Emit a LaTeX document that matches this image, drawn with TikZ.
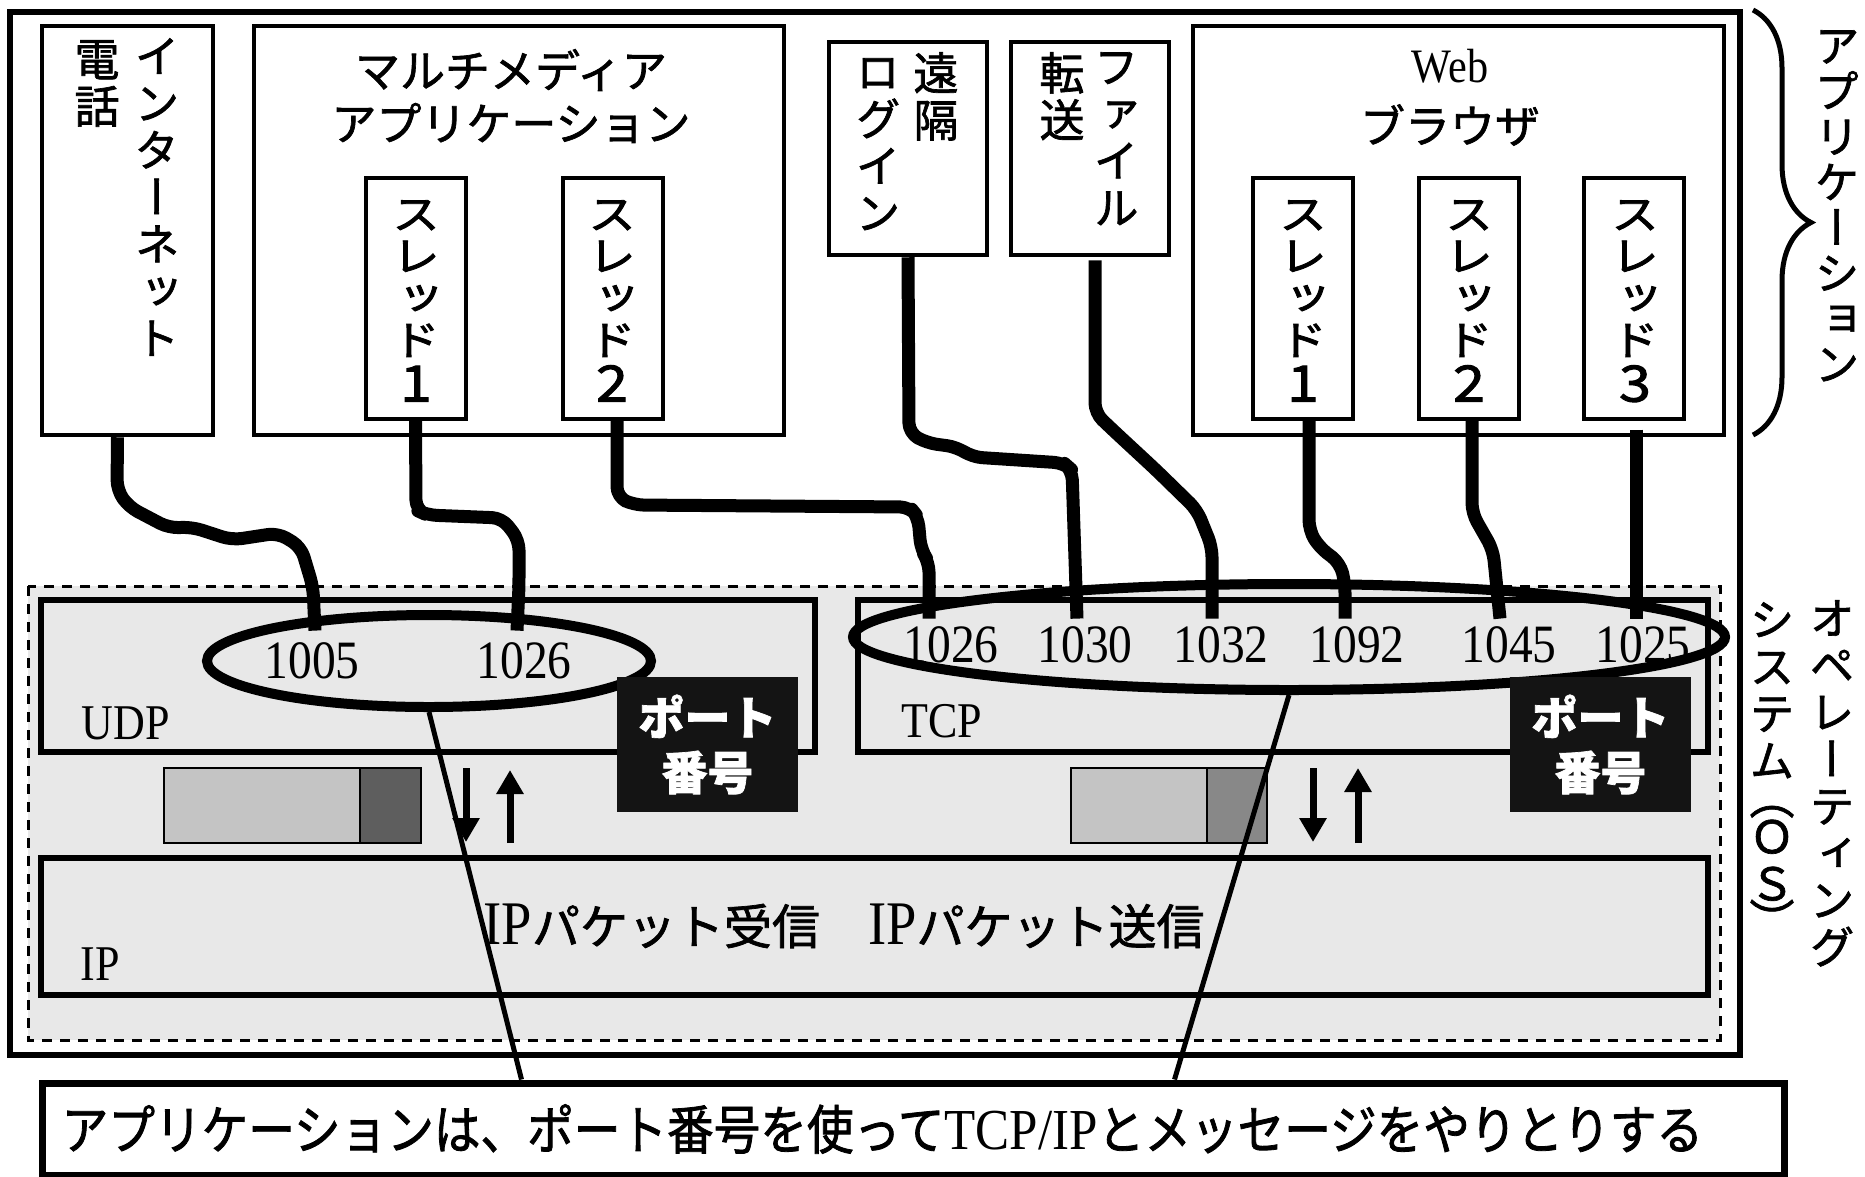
\documentclass[tikz,border=0pt]{standalone}
\usepackage{fontspec}
\usetikzlibrary{shapes.geometric,arrows.meta,decorations.pathreplacing}
\newfontfamily\jp[FakeBold=1.5]{Noto Sans CJK JP}
\newfontfamily\jpv[RawFeature=+vert, FakeBold=1.5]{Noto Sans CJK JP}
\newfontfamily\jpw[RawFeature=+vert, FakeStretch=1.15, FakeBold=2]{Noto Sans CJK JP}
\newfontfamily\jpc[FakeStretch=0.88, FakeBold=1.5]{Noto Sans CJK JP}
\newfontfamily\tm[FakeStretch=0.88]{Liberation Serif}
\newcommand\tmbig{\tm\fontsize{62}{62}\selectfont}
\newcommand\thrno[1]{{\fontsize{50}{42}\selectfont #1}}
\definecolor{osgray}{HTML}{E8E8E8}
\definecolor{pktlight}{HTML}{C4C4C4}
\definecolor{pktdark}{HTML}{5E5E5E}
\definecolor{pktmid}{HTML}{888888}
\definecolor{portblack}{HTML}{141414}
\tikzset{
  appbox/.style={draw, line width=4.5pt, fill=white, inner sep=0pt},
  thrbox/.style={draw, line width=4pt, fill=white, inner sep=0pt, minimum width=100pt, minimum height=241pt},
  layer/.style={draw, line width=6pt, fill=osgray, inner sep=0pt},
  layername/.style={font=\tm\fontsize{50}{50}\selectfont, inner sep=0pt},
  vtext/.style={font=\jpv\fontsize{45}{47}\selectfont, align=center, inner sep=0pt, anchor=north},
  thrtext/.style={font=\jpw\fontsize{42}{42}\selectfont, align=center, inner sep=0pt, anchor=north},
  portno/.style={font=\tm\fontsize{54}{54}\selectfont, inner sep=0pt},
  portset/.style={draw, ellipse, line width=10pt, inner sep=0pt},
  wire/.style={line width=13pt, rounded corners=10pt, line join=round},
  portlabel/.style={fill=portblack, text=white, font=\jp\bfseries\fontsize{46}{55}\selectfont, align=center, minimum width=181pt, minimum height=135pt, inner sep=0pt},
  updown/.style={line width=7pt, -{Triangle[width=26pt,length=24pt]}},
  callout/.style={line width=5pt},
}
\begin{document}
\begin{tikzpicture}[x=1pt,y=-1pt]
\useasboundingbox (0,0) rectangle (1865,1176);
\draw[line width=5.5pt, fill=white] (10,12) rectangle (1740,1055);%host
\draw[line width=3pt, dash pattern=on 10pt off 8pt, fill=osgray] (28,586) rectangle (1720,1040);%os

% applications
\node[appbox, minimum width=171pt, minimum height=409pt] (tel) at (127.5,230.5) {};
\node[vtext] at (157,38) {イ\\ン\\タ\\ー\\ネ\\ッ\\ト};
\node[vtext] at (97,40) {電\\話};

\node[appbox, minimum width=530pt, minimum height=409pt] (mm) at (519,230.5) {};
\node[font=\jp\fontsize{45}{53}\selectfont, align=center, inner sep=0pt] at (511,96) {マルチメディア\\アプリケーション};
\node[thrbox] (mt1) at (415.5,298.5) {};
\node[thrtext] at (416,200) {ス\\レ\\ッ\\ド\\[4pt]\thrno{1}};
\node[thrbox] (mt2) at (613,298.5) {};
\node[thrtext] at (612,200) {ス\\レ\\ッ\\ド\\[4pt]\thrno{2}};

\node[appbox, minimum width=158pt, minimum height=213pt] (rlogin) at (908,148.5) {};
\node[vtext] at (936,52) {遠\\隔};
\node[vtext] at (878,58) {ロ\\グ\\イ\\ン};
\node[appbox, minimum width=158pt, minimum height=213pt] (ftp) at (1090,148.5) {};
\node[vtext] at (1116,52) {フ\\ァ\\イ\\ル};
\node[vtext] at (1062,52) {転\\送};

\node[appbox, line width=4pt, minimum width=531pt, minimum height=409pt] (web) at (1458.5,230.5) {};
\node[font=\tm\fontsize{48}{48}\selectfont, inner sep=0pt] at (1450,66) {Web};
\node[font=\jp\fontsize{45}{45}\selectfont, inner sep=0pt] at (1450,125) {ブラウザ};
\node[thrbox] (wt1) at (1303,298) {};
\node[thrtext] at (1303,200) {ス\\レ\\ッ\\ド\\[4pt]\thrno{1}};
\node[thrbox] (wt2) at (1469,298) {};
\node[thrtext] at (1469,200) {ス\\レ\\ッ\\ド\\[4pt]\thrno{2}};
\node[thrbox] (wt3) at (1634,298) {};
\node[thrtext] at (1635,200) {ス\\レ\\ッ\\ド\\[4pt]\thrno{3}};

% layers
\node[layer, minimum width=774pt, minimum height=152pt] (udp) at (428,676) {};
\node[layer, minimum width=850pt, minimum height=152pt] (tcp) at (1283,676) {};
\node[layer, minimum width=1667pt, minimum height=137pt] (ip) at (874.5,926.5) {};
\node[layername] at (126,723) {UDP};
\node[layername] at (942,721) {TCP};
\node[layername] at (100,964) {IP};
\node[font=\jp\fontsize{48}{48}\selectfont, inner sep=0pt] (iptext) at (844,926) {{\tmbig IP}パケット受信　{\tmbig IP}パケット送信};

% port numbers
\node[portset, minimum width=444pt, minimum height=92pt] (udpports) at (429,661) {};
\node[portset, minimum width=872pt, minimum height=106pt] (tcpports) at (1289,637) {};
\node[portno] (u1005) at (312,661) {1005};
\node[portno] (u1026) at (524,661) {1026};
\node[portno] (t1026) at (951,645) {1026};
\node[portno] (t1030) at (1085,645) {1030};
\node[portno] (t1032) at (1221,645) {1032};
\node[portno] (t1092) at (1357,645) {1092};
\node[portno] (t1045) at (1509,645) {1045};
\node[portno] (t1025) at (1643,645) {1025};

% wires
\draw[wire] ([xshift=-10pt]tel.south) -- (117,490) -- (129,507) -- (169,528) -- (192,527) -- (232,540) -- (278,533) -- (301,547) -- (313,587) -- ([xshift=3pt,yshift=12pt]u1005.north);
\draw[wire] (mt1.south) -- (416,510) -- (427,515) -- (502,518) -- (519,540) -- (519,587) -- ([xshift=-7pt,yshift=12pt]u1026.north);
\draw[wire] ([xshift=4pt]mt2.south) -- (617,497) -- (634,505) -- (910,507) -- (918,517) -- (921,550) -- (929,562) -- ([xshift=-22pt,yshift=8pt]t1026.north);
\draw[wire] (rlogin.south) -- (909,433) -- (927,443) -- (957,447) -- (972,457) -- (1064,463) -- (1072,470) -- ([xshift=-8pt,yshift=8pt]t1030.north);
\draw[wire] ([xshift=5pt,yshift=-3pt]ftp.south) -- (1095,413) -- (1115,432) -- (1156,470) -- (1197,510) -- (1212,547) -- ([xshift=-9pt,yshift=8pt]t1032.north);
\draw[wire] ([xshift=6pt]wt1.south) -- (1309,530) -- (1319,547) -- (1340,563) -- (1345,583) -- ([xshift=-12pt,yshift=8pt]t1092.north);
\draw[wire] ([xshift=3pt]wt2.south) -- (1472,513) -- (1493,550) -- ([xshift=-9pt,yshift=8pt]t1045.north);
\draw[wire] ([xshift=2pt,yshift=-9pt]wt3.south) -- ([xshift=-7pt,yshift=8pt]t1025.north);

\node[portlabel] (udpport) at (707.5,744.5) {ポート\\番号};
\node[portlabel] (tcpport) at (1600.5,744.5) {ポート\\番号};

% packets
\draw[line width=2pt, fill=pktlight] (164,768) rectangle (360,843);
\draw[line width=2pt, fill=pktdark] (360,768) rectangle (421,843);
\draw[line width=2pt, fill=pktlight] (1071,768) rectangle (1207,843);
\draw[line width=2pt, fill=pktmid] (1207,768) rectangle (1267,843);
\coordinate (udn1) at (466,768); \coordinate (udn2) at (466,842);
\coordinate (uup1) at (510,843); \coordinate (uup2) at (510,770);
\coordinate (tdn1) at (1313,768); \coordinate (tdn2) at (1313,842);
\coordinate (tup1) at (1358,843); \coordinate (tup2) at (1358,768);
\draw[updown] (udn1) -- (udn2);
\draw[updown] (uup1) -- (uup2);
\draw[updown] (tdn1) -- (tdn2);
\draw[updown] (tup1) -- (tup2);

% side labels
\draw[line width=5pt, decorate, decoration={brace, amplitude=58pt}] (1753,10) -- (1753,435);
\node[vtext, font=\jpv\fontsize{45}{45.5}\selectfont] (applbl) at (1837,30) {ア\\プ\\リ\\ケ\\ー\\シ\\ョ\\ン};
\node[vtext] (oslbl) at (1832,600) {オ\\ペ\\レ\\ー\\テ\\ィ\\ン\\グ};
\node[vtext] (oslbl2) at (1772,602) {シ\\ス\\テ\\ム\\[-10pt]（\\[-8pt]Ｏ\\Ｓ\\[-10pt]）};

% note
\node[draw, line width=7pt, fill=white, minimum width=1742pt, minimum height=92pt, inner sep=0pt] (note) at (913,1129) {};
\node[anchor=west, font=\jpc\fontsize{53}{53}\selectfont, inner sep=0pt] at ([xshift=23pt]note.west) {アプリケーションは、ポート番号を使って{\tm\fontsize{58}{58}\selectfont TCP/IP}とメッセージをやりとりする};
\draw[callout] (udpports.south) -- ([xshift=483pt]note.north west);
\draw[callout] (tcpports.south) -- ([xshift=1136pt]note.north west);
\end{tikzpicture}
\end{document}
